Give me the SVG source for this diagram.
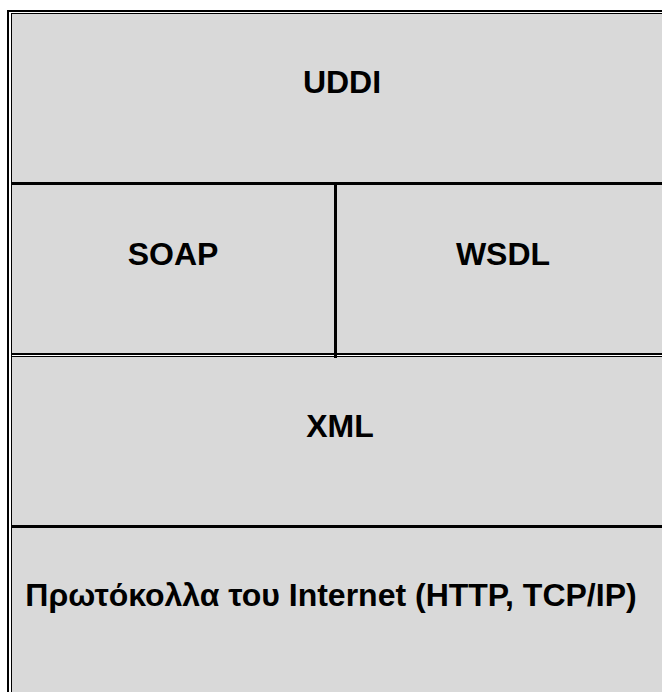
<svg xmlns="http://www.w3.org/2000/svg" width="662" height="692" viewBox="0 0 662 692">
  <style>
    .cell { fill: #d9d9d9; stroke: none; }
    .rule { stroke: #000; fill: none; }
    .label { font-family: "Liberation Sans", Arial, sans-serif; font-weight: bold; font-size: 32px; fill: #000; text-anchor: middle; }
  </style>
  <rect x="0" y="0" width="662" height="692" fill="#fff"/>

  <g id="uddi">
    <rect class="cell" x="12" y="14" width="650" height="169"/>
    <text class="label" x="342" y="93">UDDI</text>
  </g>
  <g id="soap">
    <rect class="cell" x="12" y="184" width="323" height="170"/>
    <text class="label" x="173" y="265">SOAP</text>
  </g>
  <g id="wsdl">
    <rect class="cell" x="336" y="184" width="326" height="170"/>
    <text class="label" x="503" y="265">WSDL</text>
  </g>
  <g id="xml">
    <rect class="cell" x="12" y="357" width="650" height="169"/>
    <text class="label" x="340" y="437">XML</text>
  </g>
  <g id="internet">
    <rect class="cell" x="12" y="527" width="650" height="165"/>
    <text class="label" x="331" y="606">Πρωτόκολλα του Internet (HTTP, TCP/IP)</text>
  </g>

  <g id="connectors">
    <!-- outer double frame: top and left -->
    <line class="rule" x1="7" y1="11" x2="662" y2="11" stroke-width="2"/>
    <line class="rule" x1="11" y1="13.5" x2="662" y2="13.5" stroke-width="1"/>
    <line class="rule" x1="8" y1="10" x2="8" y2="692" stroke-width="2"/>
    <line class="rule" x1="11.5" y1="13" x2="11.5" y2="692" stroke-width="1"/>
    <!-- row separators -->
    <line class="rule" x1="11" y1="183.5" x2="662" y2="183.5" stroke-width="3"/>
    <line class="rule" x1="11" y1="354" x2="662" y2="354" stroke-width="2"/>
    <line class="rule" x1="11" y1="356.5" x2="662" y2="356.5" stroke-width="1"/>
    <line class="rule" x1="11" y1="526.5" x2="662" y2="526.5" stroke-width="3"/>
    <!-- column separator -->
    <line class="rule" x1="335.5" y1="182" x2="335.5" y2="358" stroke-width="3"/>
  </g>
</svg>
